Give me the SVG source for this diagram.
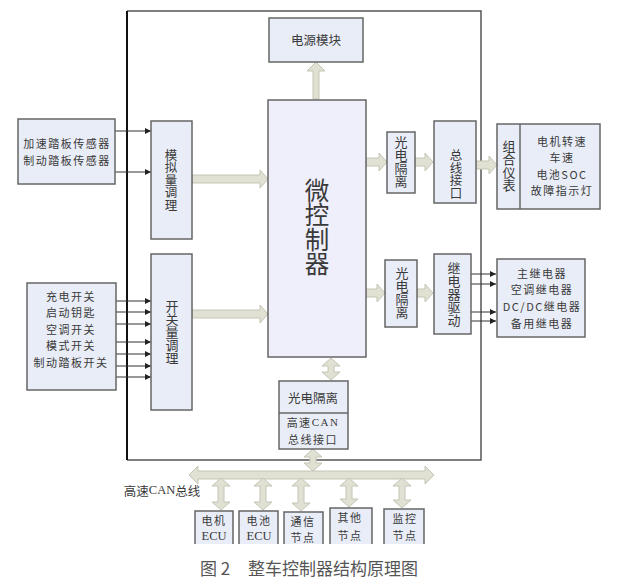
<svg xmlns="http://www.w3.org/2000/svg" width="630" height="580" viewBox="0 0 630 580">
<style>
text{font-family:"Noto Sans CJK SC","Liberation Sans",sans-serif;font-size:12.5px;fill:#3a3a3a;text-anchor:middle;dominant-baseline:central}
.v{writing-mode:vertical-rl}
.s{font-size:11px;letter-spacing:1.5px}
.m{font-family:"Liberation Serif","Noto Sans CJK SC",serif}
.b{fill:#e9edf7;stroke:#666;stroke-width:1.5}
.o{fill:#e9edf7;stroke:none}
.l{fill:none;stroke:#666;stroke-width:1.5}
.a{fill:#e0e1d2;stroke:#c4c5b6;stroke-width:1}
.t{stroke:#333;stroke-width:1;fill:none;marker-end:url(#h)}
</style>
<defs><marker id="h" markerUnits="userSpaceOnUse" markerWidth="7" markerHeight="6" refX="6" refY="3" orient="auto"><path d="M0 0L6 3L0 6Z" fill="#222"/></marker></defs>
<rect width="630" height="580" fill="#fff"/>
<g id="frame"><path d="M127 460H481V11H127" fill="none" stroke="#555" stroke-width="1.5"/><path d="M127 11V460" stroke="#111" stroke-width="2" fill="none"/></g>
<g id="connectors">
<path class="t" d="M115 131H151"/><path class="t" d="M115 172H151"/>
<path class="t" d="M116 301H151"/><path class="t" d="M116 312H151"/><path class="t" d="M116 324H151"/><path class="t" d="M116 342H151"/><path class="t" d="M116 354H151"/><path class="t" d="M116 366H151"/><path class="t" d="M116 377H151"/>
<path class="t" d="M470 274H496"/><path class="t" d="M470 284H496"/><path class="t" d="M470 312H496"/><path class="t" d="M470 321H496"/>
<polygon class="a" points="192,175 260,175 260,170 268,179 260,188 260,183 192,183"/>
<polygon class="a" points="192,310 260,310 260,305 268,314 260,323 260,318 192,318"/>
<polygon class="a" points="366,158 379,158 379,153 387,162 379,171 379,166 366,166"/>
<polygon class="a" points="415,158 425,158 425,153 433,162 425,171 425,166 415,166"/>
<polygon class="a" points="476,161 489,161 489,156 497,165 489,174 489,169 476,169"/>
<polygon class="a" points="366,289 377,289 377,284 385,293 377,302 377,297 366,297"/>
<polygon class="a" points="417,289 425,289 425,284 433,293 425,302 425,297 417,297"/>
<polygon class="a" points="313,99 313,71 307,71 316,62 325,71 319,71 319,99"/>
<polygon class="a" points="328,366 322,366 331,358 340,366 334,366 334,372 340,372 331,380 322,372 328,372"/>
<polygon class="a" points="310,457 304,457 313,449 322,457 316,457 316,463 322,463 313,471 304,463 310,463"/>
<polygon class="a" points="198,471 425,471 425,466 434,475 425,484 425,479 198,479 198,484 189,475 198,466"/>
<polygon class="a" points="218,486 212,486 221,478 230,486 224,486 224,502 230,502 221,510 212,502 218,502"/>
<polygon class="a" points="260,486 254,486 263,478 272,486 266,486 266,502 272,502 263,510 254,502 260,502"/>
<polygon class="a" points="298,486 292,486 301,478 310,486 304,486 304,503 310,503 301,511 292,503 298,503"/>
<polygon class="a" points="346,486 340,486 349,478 358,486 352,486 352,499 358,499 349,507 340,499 346,499"/>
<polygon class="a" points="399,486 393,486 402,478 411,486 405,486 405,500 411,500 402,508 393,500 399,500"/>
</g>
<g id="sensors"><rect class="b" x="18" y="119" width="97" height="65"/><text class="s"><tspan x="67" y="143">加速踏板传感器</tspan><tspan x="67" y="160">制动踏板传感器</tspan></text></g>
<g id="analog"><rect class="b" x="151" y="121" width="41" height="118"/><text class="v" x="171" y="180">模拟量调理</text></g>
<g id="switches"><rect class="b" x="27" y="283" width="89" height="107"/><text class="s"><tspan x="71" y="296">充电开关</tspan><tspan x="71" y="312">启动钥匙</tspan><tspan x="71" y="328.5">空调开关</tspan><tspan x="71" y="345">模式开关</tspan><tspan x="71" y="361.5">制动踏板开关</tspan></text></g>
<g id="digital"><rect class="b" x="151" y="254" width="41" height="156"/><text class="v" x="172" y="332" style="font-size:13px">开关量调理</text></g>
<g id="mcu"><rect class="b" x="268" y="100" width="98" height="257" style="fill:#eeeffa"/><text class="v" x="317" y="227" style="font-size:24.5px">微控制器</text></g>
<g id="power"><rect class="b" x="269" y="18" width="94" height="44"/><text x="316" y="39">电源模块</text></g>
<g id="opto1"><rect class="b" x="387" y="132" width="28" height="61"/><text class="v" x="401" y="162" style="font-size:13px">光电隔离</text></g>
<g id="bus-if"><rect class="b" x="434" y="121" width="42" height="82"/><text class="v" x="456" y="174">总线接口</text></g>
<g id="cluster"><rect class="b" x="497" y="124" width="103" height="85"/><path class="l" d="M520 124V209"/><text class="v" x="509" y="166" style="font-size:13px">组合仪表</text><text class="s"><tspan x="562" y="141">电机转速</tspan><tspan x="562" y="157">车速</tspan><tspan x="562" y="173.5">电池SOC</tspan><tspan x="562" y="190">故障指示灯</tspan></text></g>
<g id="opto2"><rect class="b" x="385" y="260" width="32" height="67"/><text class="v" x="402" y="293" style="font-size:13px">光电隔离</text></g>
<g id="relay-drv"><rect class="b" x="434" y="254" width="37" height="80"/><text class="v" x="454" y="294" style="font-size:13px">继电器驱动</text></g>
<g id="relays"><rect class="b" x="497" y="259" width="88" height="78"/><text class="s"><tspan x="542" y="273">主继电器</tspan><tspan x="542" y="289">空调继电器</tspan><tspan x="542" y="306">DC/DC继电器</tspan><tspan x="542" y="323">备用继电器</tspan></text></g>
<g id="can-if"><rect class="b" x="279" y="381" width="69" height="68"/><path class="l" d="M279 413H348"/><text x="313" y="397">光电隔离</text><text class="s"><tspan x="313" y="422">高速<tspan class="m">CAN</tspan></tspan><tspan x="313" y="439">总线接口</tspan></text></g>
<g id="bus-label"><text x="162" y="490">高速<tspan class="m">CAN</tspan>总线</text></g>
<g id="motor"><path class="o" d="M195 511H233V544H195Z"/><path class="l" d="M195 544V511H233V544"/><text class="s"><tspan x="214" y="520">电机</tspan></text><text class="m" x="214" y="536">ECU</text></g>
<g id="battery"><path class="o" d="M239 511H278V544H239Z"/><path class="l" d="M239 544V511H278V544"/><text class="s"><tspan x="259" y="520">电池</tspan></text><text class="m" x="259" y="536">ECU</text></g>
<g id="comm"><path class="o" d="M284 512H323V544H284Z"/><path class="l" d="M284 544V512H323V544"/><text class="s"><tspan x="303" y="521">通信</tspan><tspan x="303" y="537">节点</tspan></text></g>
<g id="other"><path class="o" d="M330 508H372V544H330Z"/><path class="l" d="M330 544V508H372V544"/><text class="s"><tspan x="350" y="517">其他</tspan><tspan x="350" y="535">节点</tspan></text></g>
<g id="monitor"><path class="o" d="M384 509H424V544H384Z"/><path class="l" d="M384 544V509H424V544"/><text class="s"><tspan x="405" y="518">监控</tspan><tspan x="405" y="535">节点</tspan></text></g>
<g id="caption"><text y="567" style="font-size:17px;fill:#555;text-anchor:start"><tspan x="200">图 2</tspan><tspan x="248">整车控制器结构原理图</tspan></text></g>
</svg>
